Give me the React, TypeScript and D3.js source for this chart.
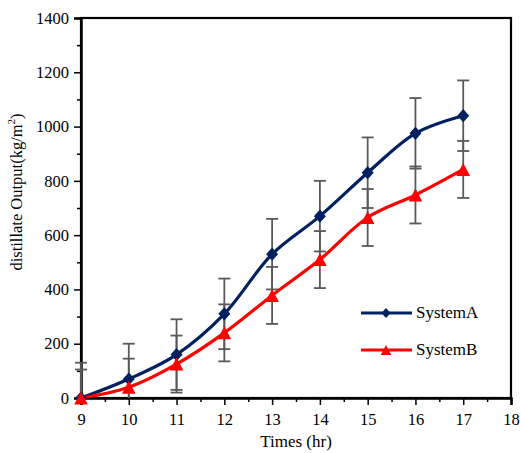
import React, { useEffect, useRef } from "react";
import * as d3 from "d3";

// data
const hours = [9, 10, 11, 12, 13, 14, 15, 16, 17];
const systemA = [0, 70, 160, 310, 530, 670, 830, 975, 1040];
const systemB = [0, 40, 125, 240, 378, 510, 665, 748, 842];
const errA = 130;
const errB = 105;
const yTicks = [0, 200, 400, 600, 800, 1000, 1200, 1400];
const xTicks = [9, 10, 11, 12, 13, 14, 15, 16, 17, 18];

const W = 521;
const H = 453;
const margin = { left: 81, right: 10, top: 18, bottom: 55 };

// Excel-like markers: box-centred diamond and triangle, size = half extent
const diamond = {
  draw(ctx: any, s: number) {
    ctx.moveTo(0, -s * 1.1);
    ctx.lineTo(s, 0);
    ctx.lineTo(0, s * 1.1);
    ctx.lineTo(-s, 0);
    ctx.closePath();
  },
};
const triangle = {
  draw(ctx: any, s: number) {
    ctx.moveTo(0, -s);
    ctx.lineTo(s * 1.05, s);
    ctx.lineTo(-s * 1.05, s);
    ctx.closePath();
  },
};

function App() {
  const svgRef = useRef<SVGSVGElement>(null);

  useEffect(() => {
    const svg = d3.select(svgRef.current);
    svg.selectAll("*").remove();
    const font = "'Liberation Serif', 'Times New Roman', serif";

    const x = d3.scaleLinear().domain([9, 18]).range([margin.left, W - margin.right]);
    const y = d3.scaleLinear().domain([0, 1400]).range([H - margin.bottom, margin.top]);

    const clipId = "plotclip";
    svg
      .append("clipPath")
      .attr("id", clipId)
      .append("rect")
      .attr("x", x(9) - 10)
      .attr("y", y(1400))
      .attr("width", x(18) - x(9) + 10)
      .attr("height", y(0) - y(1400) + 1);

    // frame
    svg
      .append("rect")
      .attr("x", x(9))
      .attr("y", y(1400))
      .attr("width", x(18) - x(9))
      .attr("height", y(0) - y(1400))
      .attr("fill", "none")
      .attr("stroke", "#000")
      .attr("stroke-width", 2.2);

    // axes
    const yAxis = d3
      .axisLeft(y)
      .tickValues(yTicks)
      .tickSize(7)
      .tickPadding(5)
      .tickFormat(d3.format("d"));
    const yMinor = d3.axisLeft(y).tickValues(d3.range(100, 1400, 200)).tickSize(4).tickFormat(() => "");
    const xAxis = d3.axisBottom(x).tickValues(xTicks).tickSize(7).tickPadding(8).tickFormat(d3.format("d"));
    const xMinor = d3.axisBottom(x).tickValues(d3.range(9.5, 18, 1)).tickSize(4).tickFormat(() => "");

    const gy = svg.append("g").attr("transform", `translate(${x(9)},0)`).call(yAxis);
    svg.append("g").attr("transform", `translate(${x(9)},0)`).call(yMinor).select(".domain").remove();
    const gx = svg.append("g").attr("transform", `translate(0,${y(0)})`).call(xAxis);
    svg.append("g").attr("transform", `translate(0,${y(0)})`).call(xMinor).select(".domain").remove();

    [gy, gx].forEach((g) => {
      g.select(".domain").attr("stroke-width", 2.5);
      g.selectAll("text").attr("font-family", font).attr("font-size", 16.5).attr("fill", "#000");
    });
    svg.selectAll(".tick line").attr("stroke", "#000").attr("stroke-width", 1.5);

    // axis titles
    svg
      .append("text")
      .attr("x", (x(9) + x(18)) / 2)
      .attr("y", 447)
      .attr("text-anchor", "middle")
      .attr("font-family", font)
      .attr("font-size", 17)
      .text("Times (hr)");

    const yl = svg
      .append("text")
      .attr("transform", `translate(22,192) rotate(-90)`)
      .attr("text-anchor", "middle")
      .attr("font-family", font)
      .attr("font-size", 16.5);
    yl.append("tspan").text("distillate Output(kg/m");
    yl.append("tspan").attr("font-size", 11).attr("dy", -7).text("2");
    yl.append("tspan").attr("dy", 7).text(")");

    const series = [
      { name: "SystemA", values: systemA, err: errA, color: "#002060", marker: diamond, size: 6, lsize: 4.5 },
      { name: "SystemB", values: systemB, err: errB, color: "#ff0000", marker: triangle, size: 6.5, lsize: 5 },
    ];

    const plot = svg.append("g").attr("clip-path", `url(#${clipId})`);
    const line = d3
      .line<number>()
      .x((_, i) => x(hours[i]))
      .y((v) => y(v))
      .curve(d3.curveCatmullRom.alpha(0.5));

    series.forEach((s) => {
      plot
        .append("path")
        .datum(s.values)
        .attr("d", line)
        .attr("fill", "none")
        .attr("stroke", s.color)
        .attr("stroke-width", 3.2);
    });

    // error bars
    series.forEach((s) => {
      const g = plot.append("g").attr("stroke", "#595959").attr("stroke-width", 1.8);
      s.values.forEach((v, i) => {
        const cx = x(hours[i]);
        const lo = Math.max(0, v - s.err);
        const hi = v + s.err;
        g.append("line").attr("x1", cx).attr("x2", cx).attr("y1", y(lo)).attr("y2", y(hi));
        g.append("line").attr("x1", cx - 6).attr("x2", cx + 6).attr("y1", y(hi)).attr("y2", y(hi));
        if (v - s.err > 0) {
          g.append("line").attr("x1", cx - 6).attr("x2", cx + 6).attr("y1", y(lo)).attr("y2", y(lo));
        }
      });
    });

    // markers
    series.forEach((s) => {
      const sym = d3.symbol().type(s.marker as any).size(s.size);
      svg
        .append("g")
        .selectAll("path")
        .data(s.values)
        .join("path")
        .attr("d", sym)
        .attr("transform", (v, i) => `translate(${x(hours[i])},${y(v)})`)
        .attr("fill", s.color);
    });

    // legend
    series.forEach((s, i) => {
      const ly = 313 + i * 37;
      const g = svg.append("g");
      g.append("line")
        .attr("x1", 361)
        .attr("x2", 412)
        .attr("y1", ly)
        .attr("y2", ly)
        .attr("stroke", s.color)
        .attr("stroke-width", 3.2);
      g.append("path")
        .attr("d", d3.symbol().type(s.marker as any).size(s.lsize))
        .attr("transform", `translate(386,${ly})`)
        .attr("fill", s.color);
      g.append("text")
        .attr("x", 416)
        .attr("y", ly + 5)
        .attr("font-family", font)
        .attr("font-size", 17)
        .text(s.name);
    });
  }, []);

  return (
    <svg
      ref={svgRef}
      width={W}
      height={H}
      style={{ position: "absolute", left: 0, top: 0, background: "#fff" }}
    />
  );
}

export default App;
